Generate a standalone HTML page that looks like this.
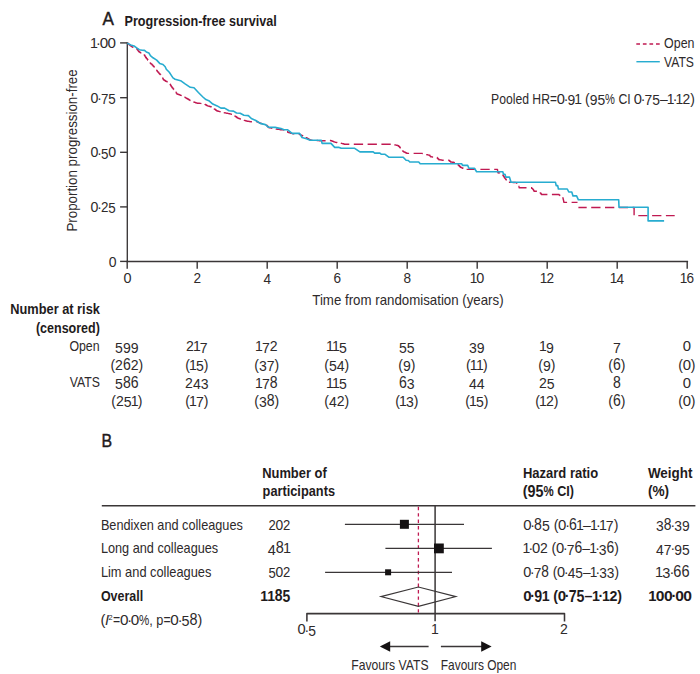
<!DOCTYPE html>
<html><head><meta charset="utf-8"><title>Figure</title>
<style>
html,body{margin:0;padding:0;background:#fff;}
body{width:700px;height:674px;overflow:hidden;font-family:"Liberation Sans",sans-serif;}
svg{display:block;font-family:"Liberation Sans",sans-serif;}
svg text{white-space:pre;}
</style></head><body>
<svg width="700" height="674" viewBox="0 0 700 674">
<rect width="700" height="674" fill="#ffffff"/>
<text x="102.6" y="25.4" font-size="17.8" textLength="11.4" lengthAdjust="spacingAndGlyphs" fill="#1f1b1c" stroke="#1f1b1c" stroke-width="0.45">A</text>
<text x="124.5" y="25.8" font-size="15.2" font-weight="700" textLength="152.2" lengthAdjust="spacingAndGlyphs" fill="#1f1b1c">Progression-free survival</text>
<line x1="127.3" y1="42.2" x2="127.3" y2="262.1" stroke="#3a3637" stroke-width="1.35"/>
<line x1="126.5" y1="261.4" x2="688.1" y2="261.4" stroke="#3a3637" stroke-width="1.45"/>
<line x1="120.1" y1="42.9" x2="127.2" y2="42.9" stroke="#3a3637" stroke-width="1.4"/>
<g font-size="13.9" fill="#2e2a2b"><text transform="translate(89.93,48.05) scale(1.030,1.038)" xml:space="preserve">1</text><text transform="translate(96.06,48.25) scale(1.030,1.000)" xml:space="preserve">·</text><text transform="translate(99.63,48.05) scale(1.092,1.027)" xml:space="preserve">0</text><text transform="translate(107.60,48.05) scale(1.092,1.027)" xml:space="preserve">0</text></g>
<line x1="120.1" y1="97.7" x2="127.2" y2="97.7" stroke="#3a3637" stroke-width="1.4"/>
<g font-size="13.9" fill="#2e2a2b"><text transform="translate(90.58,102.85) scale(1.020,1.027)" xml:space="preserve">0</text><text transform="translate(97.35,103.05) scale(0.963,1.000)" xml:space="preserve">·</text><text transform="translate(100.92,104.15) scale(0.963,1.050)" xml:space="preserve">7</text><text transform="translate(108.36,104.15) scale(0.963,1.050)" xml:space="preserve">5</text></g>
<line x1="120.1" y1="152.3" x2="127.2" y2="152.3" stroke="#3a3637" stroke-width="1.4"/>
<g font-size="13.9" fill="#2e2a2b"><text transform="translate(90.58,157.45) scale(1.020,1.027)" xml:space="preserve">0</text><text transform="translate(97.35,157.65) scale(0.963,1.000)" xml:space="preserve">·</text><text transform="translate(100.92,158.75) scale(0.963,1.050)" xml:space="preserve">5</text><text transform="translate(108.14,157.45) scale(1.020,1.027)" xml:space="preserve">0</text></g>
<line x1="120.1" y1="206.9" x2="127.2" y2="206.9" stroke="#3a3637" stroke-width="1.4"/>
<g font-size="13.9" fill="#2e2a2b"><text transform="translate(90.58,212.05) scale(1.020,1.027)" xml:space="preserve">0</text><text transform="translate(97.35,212.25) scale(0.963,1.000)" xml:space="preserve">·</text><text transform="translate(100.92,212.05) scale(0.963,1.091)" xml:space="preserve">2</text><text transform="translate(108.36,213.35) scale(0.963,1.050)" xml:space="preserve">5</text></g>
<line x1="120.1" y1="261.4" x2="127.2" y2="261.4" stroke="#3a3637" stroke-width="1.4"/>
<g font-size="13.9" fill="#2e2a2b"><text transform="translate(108.64,266.55) scale(1.007,1.027)" xml:space="preserve">0</text></g>
<line x1="127.2" y1="261.4" x2="127.2" y2="268.8" stroke="#3a3637" stroke-width="1.4"/>
<g font-size="13.9" fill="#2e2a2b"><text transform="translate(123.39,282.55) scale(1.039,1.027)" xml:space="preserve">0</text></g>
<line x1="197.2" y1="261.4" x2="197.2" y2="268.8" stroke="#3a3637" stroke-width="1.4"/>
<g font-size="13.9" fill="#2e2a2b"><text transform="translate(193.61,282.55) scale(0.980,1.091)" xml:space="preserve">2</text></g>
<line x1="267.2" y1="261.4" x2="267.2" y2="268.8" stroke="#3a3637" stroke-width="1.4"/>
<g font-size="13.9" fill="#2e2a2b"><text transform="translate(263.61,283.85) scale(0.980,1.050)" xml:space="preserve">4</text></g>
<line x1="337.2" y1="261.4" x2="337.2" y2="268.8" stroke="#3a3637" stroke-width="1.4"/>
<g font-size="13.9" fill="#2e2a2b"><text transform="translate(333.61,282.55) scale(0.980,1.050)" xml:space="preserve">6</text></g>
<line x1="407.2" y1="261.4" x2="407.2" y2="268.8" stroke="#3a3637" stroke-width="1.4"/>
<g font-size="13.9" fill="#2e2a2b"><text transform="translate(403.61,282.55) scale(0.980,1.050)" xml:space="preserve">8</text></g>
<line x1="477.2" y1="261.4" x2="477.2" y2="268.8" stroke="#3a3637" stroke-width="1.4"/>
<g font-size="13.9" fill="#2e2a2b"><text transform="translate(469.83,282.55) scale(0.980,1.038)" xml:space="preserve">1</text><text transform="translate(476.34,282.55) scale(1.039,1.027)" xml:space="preserve">0</text></g>
<line x1="547.2" y1="261.4" x2="547.2" y2="268.8" stroke="#3a3637" stroke-width="1.4"/>
<g font-size="13.9" fill="#2e2a2b"><text transform="translate(539.83,282.55) scale(0.980,1.038)" xml:space="preserve">1</text><text transform="translate(546.57,282.55) scale(0.980,1.091)" xml:space="preserve">2</text></g>
<line x1="617.2" y1="261.4" x2="617.2" y2="268.8" stroke="#3a3637" stroke-width="1.4"/>
<g font-size="13.9" fill="#2e2a2b"><text transform="translate(609.83,282.55) scale(0.980,1.038)" xml:space="preserve">1</text><text transform="translate(616.57,283.85) scale(0.980,1.050)" xml:space="preserve">4</text></g>
<line x1="687.2" y1="261.4" x2="687.2" y2="268.8" stroke="#3a3637" stroke-width="1.4"/>
<g font-size="13.9" fill="#2e2a2b"><text transform="translate(679.83,282.55) scale(0.980,1.038)" xml:space="preserve">1</text><text transform="translate(686.57,282.55) scale(0.980,1.050)" xml:space="preserve">6</text></g>
<text x="312.3" y="304.8" font-size="14.5" textLength="191.3" lengthAdjust="spacingAndGlyphs" fill="#2e2a2b">Time from randomisation (years)</text>
<text transform="translate(77.1,231.6) rotate(-90)" font-size="14.7" textLength="162.3" lengthAdjust="spacingAndGlyphs" fill="#2e2a2b">Proportion progression-free</text>
<path d="M127.3,43.3 L128.2,43.3 L128.2,44.1 L129.1,44.1 L129.1,44.8 L130.0,44.8 L130.0,45.6 L130.7,45.6 L130.7,46.1 L131.5,46.1 L131.5,46.6 L132.2,46.6 L132.2,47.1 L133.0,47.1 L133.0,47.4 L133.7,47.4 L133.7,47.7 L134.5,47.7 L134.5,48.0 L135.2,48.0 L135.2,48.3 L136.0,48.3 L136.0,48.6 L136.7,48.6 L136.7,48.9 L137.3,48.9 L137.3,49.8 L137.9,49.8 L137.9,50.6 L138.5,50.6 L138.5,51.5 L139.2,51.5 L139.2,52.0 L140.0,52.0 L140.0,52.6 L140.7,52.6 L140.7,52.9 L141.5,52.9 L141.5,53.2 L142.2,53.2 L142.2,53.5 L143.0,53.5 L143.0,53.8 L143.7,53.8 L143.7,54.1 L144.2,54.1 L144.2,55.0 L144.7,55.0 L144.7,55.8 L145.1,55.8 L145.1,56.6 L145.6,56.6 L145.6,57.5 L146.4,57.5 L146.4,58.4 L147.1,58.4 L147.1,59.3 L147.6,59.3 L147.6,60.0 L148.0,60.0 L148.0,60.8 L148.5,60.8 L148.5,61.5 L148.9,61.5 L148.9,62.3 L149.6,62.3 L149.6,62.9 L150.4,62.9 L150.4,63.5 L151.1,63.5 L151.1,64.1 L152.1,64.1 L152.1,65.1 L153.0,65.1 L153.0,66.0 L153.7,66.0 L153.7,66.8 L154.3,66.8 L154.3,67.7 L155.0,67.7 L155.0,68.5 L155.6,68.5 L155.6,69.3 L156.2,69.3 L156.2,70.1 L156.8,70.1 L156.8,70.8 L157.4,70.8 L157.4,71.6 L158.0,71.6 L158.0,72.3 L158.7,72.3 L158.7,73.1 L159.3,73.1 L159.3,73.8 L160.0,73.8 L160.0,74.6 L160.6,74.6 L160.6,75.3 L161.2,75.3 L161.2,76.1 L161.9,76.1 L161.9,76.8 L162.3,76.8 L162.3,77.5 L162.7,77.5 L162.7,78.2 L163.0,78.2 L163.0,79.0 L163.4,79.0 L163.4,79.7 L164.1,79.7 L164.1,80.2 L164.9,80.2 L164.9,80.7 L165.6,80.7 L165.6,81.2 L166.3,81.2 L166.3,81.5 L167.1,81.5 L167.1,81.8 L167.8,81.8 L167.8,82.1 L168.6,82.1 L168.6,82.4 L169.3,82.4 L169.3,82.7 L169.7,82.7 L169.7,83.5 L170.1,83.5 L170.1,84.2 L170.4,84.2 L170.4,85.0 L170.8,85.0 L170.8,85.7 L171.3,85.7 L171.3,86.4 L171.8,86.4 L171.8,87.2 L172.3,87.2 L172.3,87.9 L173.0,87.9 L173.0,88.7 L173.6,88.7 L173.6,89.6 L174.3,89.6 L174.3,90.4 L175.0,90.4 L175.0,91.3 L175.6,91.3 L175.6,92.2 L176.2,92.2 L176.2,93.1 L176.9,93.1 L176.9,94.0 L177.6,94.0 L177.6,94.3 L178.4,94.3 L178.4,94.5 L179.1,94.5 L179.1,94.8 L179.9,94.8 L179.9,95.1 L180.6,95.1 L180.6,95.4 L181.4,95.4 L181.4,95.6 L182.1,95.6 L182.1,95.9 L182.9,95.9 L182.9,96.3 L183.6,96.3 L183.6,96.8 L184.4,96.8 L184.4,97.2 L185.1,97.2 L185.1,97.6 L185.9,97.6 L185.9,98.1 L186.6,98.1 L186.6,98.5 L187.5,98.5 L187.5,99.0 L188.4,99.0 L188.4,99.5 L189.2,99.5 L189.2,100.1 L190.1,100.1 L190.1,100.6 L191.0,100.6 L191.0,101.1 L191.8,101.1 L191.8,101.4 L192.5,101.4 L192.5,101.6 L193.2,101.6 L193.2,101.9 L194.0,101.9 L194.0,102.2 L194.8,102.2 L194.8,102.4 L195.5,102.4 L195.5,102.7 L196.2,102.7 L196.2,102.9 L197.0,102.9 L197.0,103.2 L197.8,103.2 L197.8,103.2 L198.7,103.2 L198.7,103.3 L199.5,103.3 L199.5,103.4 L200.3,103.4 L200.3,103.4 L201.1,103.4 L201.1,103.5 L202.0,103.5 L202.0,103.5 L202.8,103.5 L202.8,103.6 L203.6,103.6 L203.6,103.6 L204.3,103.6 L204.3,104.1 L205.1,104.1 L205.1,104.5 L205.8,104.5 L205.8,105.0 L206.6,105.0 L206.6,105.4 L207.3,105.4 L207.3,105.9 L208.1,105.9 L208.1,106.1 L208.9,106.1 L208.9,106.3 L209.7,106.3 L209.7,106.5 L210.4,106.5 L210.4,106.7 L211.2,106.7 L211.2,106.9 L212.0,106.9 L212.0,107.1 L212.8,107.1 L212.8,107.7 L213.5,107.7 L213.5,108.3 L214.2,108.3 L214.2,109.0 L215.0,109.0 L215.0,109.6 L215.8,109.6 L215.8,110.2 L216.5,110.2 L216.5,110.8 L217.2,110.8 L217.2,111.0 L218.0,111.0 L218.0,111.2 L218.7,111.2 L218.7,111.4 L219.4,111.4 L219.4,111.6 L220.2,111.6 L220.2,111.8 L220.9,111.8 L220.9,112.0 L221.7,112.0 L221.7,112.2 L222.5,112.2 L222.5,112.4 L223.4,112.4 L223.4,112.5 L224.2,112.5 L224.2,112.7 L225.0,112.7 L225.0,112.9 L225.8,112.9 L225.8,113.1 L226.6,113.1 L226.6,113.3 L227.5,113.3 L227.5,113.4 L228.3,113.4 L228.3,113.6 L229.1,113.6 L229.1,113.8 L229.8,113.8 L229.8,113.9 L230.6,113.9 L230.6,114.1 L231.3,114.1 L231.3,114.2 L232.1,114.2 L232.1,114.4 L232.8,114.4 L232.8,114.5 L233.5,114.5 L233.5,115.1 L234.3,115.1 L234.3,115.6 L235.0,115.6 L235.0,116.2 L235.7,116.2 L235.7,116.8 L236.5,116.8 L236.5,117.3 L237.2,117.3 L237.2,117.9 L238.0,117.9 L238.0,118.2 L238.7,118.2 L238.7,118.5 L239.5,118.5 L239.5,118.7 L240.2,118.7 L240.2,119.0 L241.0,119.0 L241.0,119.3 L241.8,119.3 L241.8,119.6 L242.7,119.6 L242.7,119.8 L243.5,119.8 L243.5,120.1 L244.4,120.1 L244.4,120.4 L245.2,120.4 L245.2,120.7 L246.1,120.7 L246.1,120.9 L246.9,120.9 L246.9,121.2 L247.6,121.2 L247.6,121.3 L248.4,121.3 L248.4,121.4 L249.1,121.4 L249.1,121.5 L249.9,121.5 L249.9,121.6 L250.6,121.6 L250.6,121.7 L251.4,121.7 L251.4,121.8 L252.1,121.8 L252.1,121.9 L253.0,121.9 L253.0,121.8 L253.9,121.8 L253.9,121.7 L254.7,121.7 L254.7,121.7 L255.6,121.7 L255.6,121.6 L256.5,121.6 L256.5,121.5 L257.2,121.5 L257.2,121.9 L258.0,121.9 L258.0,122.3 L258.7,122.3 L258.7,122.6 L259.5,122.6 L259.5,123.0 L260.2,123.0 L260.2,123.4 L260.9,123.4 L260.9,123.5 L261.7,123.5 L261.7,123.6 L262.4,123.6 L262.4,123.7 L263.2,123.7 L263.2,123.9 L263.9,123.9 L263.9,124.0 L264.7,124.0 L264.7,124.1 L265.4,124.1 L265.4,124.2 L266.2,124.2 L266.2,125.1 L266.9,125.1 L266.9,125.9 L267.7,125.9 L267.7,126.8 L268.4,126.8 L268.4,127.6 L269.3,127.6 L269.3,127.8 L270.1,127.8 L270.1,127.9 L271.0,127.9 L271.0,128.1 L271.9,128.1 L271.9,128.3 L272.7,128.3 L272.7,128.4 L273.6,128.4 L273.6,128.6 L274.4,128.6 L274.4,128.7 L275.3,128.7 L275.3,128.9 L276.1,128.9 L276.1,129.0 L277.0,129.0 L277.0,129.2 L277.8,129.2 L277.8,129.3 L278.6,129.3 L278.6,129.4 L279.5,129.4 L279.5,129.6 L280.3,129.6 L280.3,129.7 L281.2,129.7 L281.2,129.8 L282.1,129.8 L282.1,129.9 L282.9,129.9 L282.9,129.9 L283.8,129.9 L283.8,130.0 L284.7,130.0 L284.7,130.1 L285.4,130.1 L285.4,130.7 L286.2,130.7 L286.2,131.2 L286.9,131.2 L286.9,131.8 L287.7,131.8 L287.7,132.3 L288.4,132.3 L288.4,132.5 L289.2,132.5 L289.2,132.7 L289.9,132.7 L289.9,132.9 L290.7,132.9 L290.7,133.2 L291.4,133.2 L291.4,133.4 L292.2,133.4 L292.2,133.6 L292.9,133.6 L292.9,133.8 L293.7,133.8 L293.7,133.8 L294.6,133.8 L294.6,133.9 L295.4,133.9 L295.4,133.9 L296.3,133.9 L296.3,134.0 L297.1,134.0 L297.1,134.0 L298.0,134.0 L298.0,134.1 L298.8,134.1 L298.8,134.1" fill="none" stroke="#c01a52" stroke-width="1.4" stroke-dasharray="9.3,4.5" stroke-dashoffset="13.2" stroke-linejoin="round"/>
<path d="M298.8,134.1 L299.6,134.1 L299.6,134.5 L300.4,134.5 L300.4,134.9 L301.2,134.9 L301.2,135.3 L301.9,135.3 L301.9,135.6 L302.7,135.6 L302.7,136.0 L303.5,136.0 L303.5,136.4 L304.3,136.4 L304.3,136.8 L305.1,136.8 L305.1,137.3 L306.0,137.3 L306.0,137.8 L306.8,137.8 L306.8,138.3 L307.7,138.3 L307.7,138.7 L308.5,138.7 L308.5,139.2 L309.4,139.2 L309.4,139.7 L310.2,139.7 L310.2,140.2 L311.0,140.2 L311.0,140.2 L311.9,140.2 L311.9,140.3 L312.7,140.3 L312.7,140.3 L313.6,140.3 L313.6,140.4 L314.4,140.4 L314.4,140.4 L315.3,140.4 L315.3,140.5 L316.1,140.5 L316.1,140.5 L316.9,140.5 L316.9,140.5 L317.6,140.5 L317.6,140.6 L318.4,140.6 L318.4,140.6 L319.1,140.6 L319.1,140.7 L319.9,140.7 L319.9,140.7 L320.6,140.7 L320.6,140.7 L321.4,140.7 L321.4,140.8 L322.1,140.8 L322.1,140.8 L322.9,140.8 L322.9,140.8 L323.7,140.8 L323.7,140.7 L324.5,140.7 L324.5,140.7 L325.3,140.7 L325.3,140.7 L326.1,140.7 L326.1,140.7 L327.0,140.7 L327.0,140.6 L327.8,140.6 L327.8,140.6 L328.6,140.6 L328.6,140.6 L329.4,140.6 L329.4,140.5 L330.2,140.5 L330.2,140.5 L330.9,140.5 L330.9,140.8 L331.7,140.8 L331.7,141.0 L332.4,141.0 L332.4,141.3 L333.2,141.3 L333.2,141.6 L333.9,141.6 L333.9,141.9 L334.7,141.9 L334.7,142.1 L335.4,142.1 L335.4,142.4 L336.2,142.4 L336.2,142.5 L337.1,142.5 L337.1,142.7 L337.9,142.7 L337.9,142.8 L338.8,142.8 L338.8,143.0 L339.6,143.0 L339.6,143.1 L340.5,143.1 L340.5,143.3 L341.3,143.3 L341.3,143.4 L342.1,143.4 L342.1,143.6 L342.8,143.6 L342.8,143.8 L343.6,143.8 L343.6,144.0 L344.3,144.0 L344.3,144.2 L388.8,144.2 L389.6,144.2 L389.6,144.3 L390.3,144.3 L390.3,144.4 L391.1,144.4 L391.1,144.5 L391.8,144.5 L391.8,144.6 L392.6,144.6 L392.6,144.6 L393.3,144.6 L393.3,144.7 L394.1,144.7 L394.1,144.8 L394.8,144.8 L394.8,144.9 L395.6,144.9 L395.6,145.1 L396.4,145.1 L396.4,145.3 L397.2,145.3 L397.2,145.5 L398.0,145.5 L398.0,145.7 L398.7,145.7 L398.7,146.4 L399.5,146.4 L399.5,147.2 L400.2,147.2 L400.2,147.9 L400.8,147.9 L400.8,148.6 L401.4,148.6 L401.4,149.4 L402.0,149.4 L402.0,150.1 L402.6,150.1 L402.6,150.9 L403.2,150.9 L403.2,151.6 L403.9,151.6 L403.9,152.0 L404.7,152.0 L404.7,152.3 L405.4,152.3 L405.4,152.7 L406.2,152.7 L406.2,153.0 L406.9,153.0 L406.9,153.4 L421.7,153.4 L422.4,153.4 L422.4,153.6 L423.2,153.6 L423.2,153.8 L423.9,153.8 L423.9,154.0 L424.7,154.0 L424.7,154.2 L425.4,154.2 L425.4,154.4 L426.2,154.4 L426.2,154.6 L426.9,154.6 L426.9,154.8 L427.6,154.8 L427.6,154.9 L428.4,154.9 L428.4,155.1 L429.1,155.1 L429.1,155.3 L429.9,155.3 L429.9,156.1 L430.6,156.1 L430.6,156.8 L431.4,156.8 L431.4,156.9 L432.3,156.9 L432.3,157.0 L433.1,157.0 L433.1,157.1 L434.0,157.1 L434.0,157.2 L434.8,157.2 L434.8,157.3 L435.7,157.3 L435.7,157.4 L436.5,157.4 L436.5,157.5 L437.3,157.5 L437.3,158.2 L438.0,158.2 L438.0,159.0 L438.8,159.0 L438.8,159.7 L439.5,159.7 L439.5,159.8 L440.3,159.8 L440.3,159.9 L441.0,159.9 L441.0,160.0 L441.8,160.0 L441.8,160.1 L442.5,160.1 L442.5,160.2 L448.4,160.2 L449.1,160.2 L449.1,160.8 L449.9,160.8 L449.9,161.4 L450.6,161.4 L450.6,162.0 L451.4,162.0 L451.4,162.1 L452.1,162.1 L452.1,162.2 L452.9,162.2 L452.9,162.3 L453.6,162.3 L453.6,162.4 L454.3,162.4 L454.3,162.8 L455.1,162.8 L455.1,163.1 L455.8,163.1 L455.8,163.5 L456.6,163.5 L456.6,163.8 L457.3,163.8 L457.3,164.2 L458.1,164.2 L458.1,165.0 L458.8,165.0 L458.8,165.7 L459.6,165.7 L459.6,166.5 L460.3,166.5 L460.3,167.2 L461.0,167.2 L461.0,167.5 L461.8,167.5 L461.8,167.9 L462.5,167.9 L462.5,168.2 L463.2,168.2 L463.2,168.5 L464.0,168.5 L464.0,168.8 L464.8,168.8 L464.8,169.1 L465.5,169.1 L465.5,169.4 L497.3,169.4 L497.5,169.4 L497.5,170.2 L497.6,170.2 L497.6,171.1 L497.8,171.1 L497.8,171.9 L497.9,171.9 L497.9,172.7 L498.7,172.7 L498.7,173.0 L499.6,173.0 L499.6,173.3 L500.4,173.3 L500.4,173.6 L501.3,173.6 L501.3,173.9 L502.1,173.9 L502.1,174.2 L502.7,174.2 L502.7,175.1 L503.3,175.1 L503.3,176.0 L503.8,176.0 L503.8,176.8 L504.4,176.8 L504.4,177.7 L505.0,177.7 L505.0,178.6 L505.6,178.6 L505.6,179.3 L506.2,179.3 L506.2,180.1 L506.8,180.1 L506.8,180.8 L507.4,180.8 L507.4,181.6 L508.0,181.6 L508.0,182.3 L508.8,182.3 L508.8,182.3 L509.6,182.3 L509.6,182.4 L510.5,182.4 L510.5,182.4 L511.3,182.4 L511.3,182.4 L512.1,182.4 L512.1,182.4 L512.9,182.4 L512.9,182.5 L513.7,182.5 L513.7,182.5 L514.6,182.5 L514.6,182.5 L515.4,182.5 L515.4,182.6 L516.2,182.6 L516.2,182.6 L516.8,182.6 L516.8,183.3 L517.3,183.3 L517.3,184.1 L517.8,184.1 L517.8,184.8 L518.4,184.8 L518.4,185.6 L518.6,185.6 L518.6,186.3 L518.9,186.3 L518.9,187.1 L519.1,187.1 L519.1,187.8 L531.0,187.8 L531.7,187.8 L531.7,188.4 L532.5,188.4 L532.5,189.1 L533.2,189.1 L533.2,189.7 L533.6,189.7 L533.6,190.5 L534.0,190.5 L534.0,191.2 L539.1,191.2 L539.7,191.2 L539.7,192.0 L540.2,192.0 L540.2,192.9 L540.8,192.9 L540.8,193.7 L541.4,193.7 L541.4,194.5 L558.4,194.5 L559.1,194.5 L559.1,195.1 L559.9,195.1 L559.9,195.6 L560.6,195.6 L560.6,196.2 L561.4,196.2 L561.4,196.8 L562.1,196.8 L562.1,197.3 L562.9,197.3 L562.9,197.9 L563.1,197.9 L563.1,198.7 L563.2,198.7 L563.2,199.4 L563.4,199.4 L563.4,200.2 L563.6,200.2 L563.6,200.9 L563.7,200.9 L563.7,201.7 L563.9,201.7 L563.9,202.4 L577.5,202.4" fill="none" stroke="#c01a52" stroke-width="1.4" stroke-dasharray="9.3,4.5" stroke-dashoffset="3.3" stroke-linejoin="round"/>
<path d="M578.4,207.5 L634.1,207.5 L634.1,215.6 L674.7,215.6" fill="none" stroke="#c01a52" stroke-width="1.4" stroke-dasharray="9.3,4.5" stroke-dashoffset="1.0" stroke-linejoin="round"/>
<path d="M127.3,43.3 L130.7,44.9 L134.1,46.0 L136.7,47.8 L139.3,49.7 L142.2,50.2 L144.5,50.4 L146.3,51.9 L148.9,53.0 L150.4,55.6 L153.0,57.8 L156.7,60.1 L159.7,63.4 L163.0,64.5 L165.2,66.7 L166.3,69.3 L169.3,72.3 L171.5,75.6 L173.0,77.9 L175.1,79.2 L180.6,80.7 L185.1,83.9 L190.3,87.3 L194.0,87.8 L198.4,92.5 L202.9,97.0 L205.9,99.6 L208.8,100.7 L212.8,104.1 L217.2,105.9 L220.9,108.1 L224.6,108.1 L229.1,110.8 L233.5,111.1 L236.5,113.0 L240.2,113.3 L243.9,115.3 L248.4,115.6 L251.3,118.5 L255.8,120.5 L260.2,123.4 L265.4,124.6 L268.4,127.1 L275.1,127.4 L281.0,128.6 L284.0,129.8 L287.7,129.8 L292.1,133.4 L299.6,133.4 L302.0,137.5 L306.5,138.7 L310.2,140.2 L321.3,140.2 L322.1,143.4 L331.0,143.4 L334.7,147.4 L339.1,147.4 L341.3,148.3 L354.7,148.3 L359.9,151.9 L373.2,151.9 L374.7,153.1 L379.9,153.1 L381.4,154.3 L385.1,154.3 L388.8,157.2 L403.2,157.2 L406.1,160.2 L408.3,160.5 L409.8,162.0 L418.7,162.0 L420.2,163.8 L461.8,163.8 L462.5,165.4 L467.7,165.4 L468.9,168.2 L474.4,168.2 L476.6,171.7 L502.8,171.7 L503.5,174.2 L505.0,174.2 L505.8,177.1 L509.5,177.1 L511.0,182.3 L555.5,182.3 L556.2,185.6 L557.7,185.6 L558.4,189.0 L567.3,189.0 L568.8,192.0 L571.8,192.0 L573.0,195.9 L576.6,195.9 L578.4,199.8 L618.7,199.8 L619.0,207.2 L648.1,207.2 L648.1,220.9 L664.1,220.9" fill="none" stroke="#27acd0" stroke-width="1.6" stroke-linejoin="round"/>
<line x1="636.3" y1="44.0" x2="660.0" y2="44.0" stroke="#c01a52" stroke-width="1.45" stroke-dasharray="3.7,2.87"/>
<line x1="636.4" y1="61.7" x2="659.8" y2="61.7" stroke="#27acd0" stroke-width="1.45"/>
<text x="664.1" y="48.0" font-size="14.5" textLength="30.4" lengthAdjust="spacingAndGlyphs" fill="#2e2a2b">Open</text>
<text x="664.0" y="66.5" font-size="14.5" textLength="29.9" lengthAdjust="spacingAndGlyphs" fill="#2e2a2b">VATS</text>
<g font-size="14.8" fill="#2e2a2b"><text transform="translate(491.00,103.95) scale(0.825,1.000)" xml:space="preserve">Pooled HR</text><text transform="translate(550.07,103.95) scale(0.797,1.000)" xml:space="preserve">=</text><text transform="translate(556.73,103.95) scale(0.994,0.960)" xml:space="preserve">0</text><text transform="translate(563.76,104.15) scale(0.938,1.000)" xml:space="preserve">·</text><text transform="translate(567.45,105.25) scale(0.938,1.050)" xml:space="preserve">9</text><text transform="translate(574.33,103.95) scale(0.938,0.970)" xml:space="preserve">1</text><text transform="translate(581.20,103.95) scale(0.938,1.000)" xml:space="preserve"> (</text><text transform="translate(589.67,105.25) scale(0.938,1.050)" xml:space="preserve">9</text><text transform="translate(597.39,105.25) scale(0.938,1.050)" xml:space="preserve">5</text><text transform="translate(605.11,103.95) scale(0.750,1.000)" xml:space="preserve">%</text><text transform="translate(614.99,103.95) scale(0.825,1.000)" xml:space="preserve"> CI </text><text transform="translate(633.76,103.95) scale(0.994,0.960)" xml:space="preserve">0</text><text transform="translate(640.78,104.15) scale(0.938,1.000)" xml:space="preserve">·</text><text transform="translate(644.48,105.25) scale(0.938,1.050)" xml:space="preserve">7</text><text transform="translate(652.20,105.25) scale(0.938,1.050)" xml:space="preserve">5</text><text transform="translate(659.92,103.95) scale(0.938,1.000)" xml:space="preserve">–</text><text transform="translate(666.79,103.95) scale(0.938,0.970)" xml:space="preserve">1</text><text transform="translate(672.74,104.15) scale(0.938,1.000)" xml:space="preserve">·</text><text transform="translate(675.59,103.95) scale(0.938,0.970)" xml:space="preserve">1</text><text transform="translate(682.46,103.95) scale(0.938,1.020)" xml:space="preserve">2</text><text transform="translate(690.18,103.95) scale(0.938,1.000)" xml:space="preserve">)</text></g>
<text x="99.9" y="314.4" font-size="15.2" font-weight="700" text-anchor="end" textLength="89.6" lengthAdjust="spacingAndGlyphs" fill="#1f1b1c">Number at risk</text>
<text x="99.9" y="332.7" font-size="15.2" font-weight="700" text-anchor="end" textLength="64.0" lengthAdjust="spacingAndGlyphs" fill="#1f1b1c">(censored)</text>
<text x="99.6" y="351.4" font-size="14.5" text-anchor="end" textLength="30.2" lengthAdjust="spacingAndGlyphs" fill="#2e2a2b">Open</text>
<text x="99.9" y="387.2" font-size="14.5" text-anchor="end" textLength="30.2" lengthAdjust="spacingAndGlyphs" fill="#2e2a2b">VATS</text>
<g font-size="14.8" fill="#2e2a2b"><text transform="translate(115.07,352.65) scale(0.950,1.050)" xml:space="preserve">5</text><text transform="translate(122.89,352.65) scale(0.950,1.050)" xml:space="preserve">9</text><text transform="translate(130.71,352.65) scale(0.950,1.050)" xml:space="preserve">9</text></g>
<g font-size="14.8" fill="#2e2a2b"><text transform="translate(185.93,351.35) scale(0.950,1.020)" xml:space="preserve">2</text><text transform="translate(192.89,351.35) scale(0.950,0.970)" xml:space="preserve">1</text><text transform="translate(199.85,352.65) scale(0.950,1.050)" xml:space="preserve">7</text></g>
<g font-size="14.8" fill="#2e2a2b"><text transform="translate(255.07,351.35) scale(0.950,0.970)" xml:space="preserve">1</text><text transform="translate(262.03,352.65) scale(0.950,1.050)" xml:space="preserve">7</text><text transform="translate(269.85,351.35) scale(0.950,1.020)" xml:space="preserve">2</text></g>
<g font-size="14.8" fill="#2e2a2b"><text transform="translate(325.93,351.35) scale(0.950,0.970)" xml:space="preserve">1</text><text transform="translate(332.03,351.35) scale(0.950,0.970)" xml:space="preserve">1</text><text transform="translate(338.99,352.65) scale(0.950,1.050)" xml:space="preserve">5</text></g>
<g font-size="14.8" fill="#2e2a2b"><text transform="translate(398.98,352.65) scale(0.950,1.050)" xml:space="preserve">5</text><text transform="translate(406.80,352.65) scale(0.950,1.050)" xml:space="preserve">5</text></g>
<g font-size="14.8" fill="#2e2a2b"><text transform="translate(468.98,352.65) scale(0.950,1.050)" xml:space="preserve">3</text><text transform="translate(476.80,352.65) scale(0.950,1.050)" xml:space="preserve">9</text></g>
<g font-size="14.8" fill="#2e2a2b"><text transform="translate(538.98,351.35) scale(0.950,0.970)" xml:space="preserve">1</text><text transform="translate(545.94,352.65) scale(0.950,1.050)" xml:space="preserve">9</text></g>
<g font-size="14.8" fill="#2e2a2b"><text transform="translate(612.89,352.65) scale(0.950,1.050)" xml:space="preserve">7</text></g>
<g font-size="14.8" fill="#2e2a2b"><text transform="translate(682.66,351.35) scale(1.007,0.960)" xml:space="preserve">0</text></g>
<g font-size="14.8" fill="#2e2a2b"><text transform="translate(110.39,369.85) scale(0.950,1.000)" xml:space="preserve">(</text><text transform="translate(115.07,369.85) scale(0.950,1.020)" xml:space="preserve">2</text><text transform="translate(122.89,369.85) scale(0.950,1.130)" xml:space="preserve">6</text><text transform="translate(130.71,369.85) scale(0.950,1.020)" xml:space="preserve">2</text><text transform="translate(138.53,369.85) scale(0.950,1.000)" xml:space="preserve">)</text></g>
<g font-size="14.8" fill="#2e2a2b"><text transform="translate(185.16,369.85) scale(0.950,1.000)" xml:space="preserve">(</text><text transform="translate(188.98,369.85) scale(0.950,0.970)" xml:space="preserve">1</text><text transform="translate(195.94,371.15) scale(0.950,1.050)" xml:space="preserve">5</text><text transform="translate(203.76,369.85) scale(0.950,1.000)" xml:space="preserve">)</text></g>
<g font-size="14.8" fill="#2e2a2b"><text transform="translate(254.30,369.85) scale(0.950,1.000)" xml:space="preserve">(</text><text transform="translate(258.98,371.15) scale(0.950,1.050)" xml:space="preserve">3</text><text transform="translate(266.80,371.15) scale(0.950,1.050)" xml:space="preserve">7</text><text transform="translate(274.62,369.85) scale(0.950,1.000)" xml:space="preserve">)</text></g>
<g font-size="14.8" fill="#2e2a2b"><text transform="translate(324.30,369.85) scale(0.950,1.000)" xml:space="preserve">(</text><text transform="translate(328.98,371.15) scale(0.950,1.050)" xml:space="preserve">5</text><text transform="translate(336.80,371.15) scale(0.950,1.050)" xml:space="preserve">4</text><text transform="translate(344.62,369.85) scale(0.950,1.000)" xml:space="preserve">)</text></g>
<g font-size="14.8" fill="#2e2a2b"><text transform="translate(398.21,369.85) scale(0.950,1.000)" xml:space="preserve">(</text><text transform="translate(402.89,371.15) scale(0.950,1.050)" xml:space="preserve">9</text><text transform="translate(410.71,369.85) scale(0.950,1.000)" xml:space="preserve">)</text></g>
<g font-size="14.8" fill="#2e2a2b"><text transform="translate(466.02,369.85) scale(0.950,1.000)" xml:space="preserve">(</text><text transform="translate(469.84,369.85) scale(0.950,0.970)" xml:space="preserve">1</text><text transform="translate(475.94,369.85) scale(0.950,0.970)" xml:space="preserve">1</text><text transform="translate(482.90,369.85) scale(0.950,1.000)" xml:space="preserve">)</text></g>
<g font-size="14.8" fill="#2e2a2b"><text transform="translate(538.21,369.85) scale(0.950,1.000)" xml:space="preserve">(</text><text transform="translate(542.89,371.15) scale(0.950,1.050)" xml:space="preserve">9</text><text transform="translate(550.71,369.85) scale(0.950,1.000)" xml:space="preserve">)</text></g>
<g font-size="14.8" fill="#2e2a2b"><text transform="translate(608.21,369.85) scale(0.950,1.000)" xml:space="preserve">(</text><text transform="translate(612.89,369.85) scale(0.950,1.130)" xml:space="preserve">6</text><text transform="translate(620.71,369.85) scale(0.950,1.000)" xml:space="preserve">)</text></g>
<g font-size="14.8" fill="#2e2a2b"><text transform="translate(678.21,369.85) scale(0.950,1.000)" xml:space="preserve">(</text><text transform="translate(682.66,369.85) scale(1.007,0.960)" xml:space="preserve">0</text><text transform="translate(690.71,369.85) scale(0.950,1.000)" xml:space="preserve">)</text></g>
<g font-size="14.8" fill="#2e2a2b"><text transform="translate(115.07,388.85) scale(0.950,1.050)" xml:space="preserve">5</text><text transform="translate(122.89,387.55) scale(0.950,1.130)" xml:space="preserve">8</text><text transform="translate(130.71,387.55) scale(0.950,1.130)" xml:space="preserve">6</text></g>
<g font-size="14.8" fill="#2e2a2b"><text transform="translate(185.07,387.55) scale(0.950,1.020)" xml:space="preserve">2</text><text transform="translate(192.89,388.85) scale(0.950,1.050)" xml:space="preserve">4</text><text transform="translate(200.71,388.85) scale(0.950,1.050)" xml:space="preserve">3</text></g>
<g font-size="14.8" fill="#2e2a2b"><text transform="translate(255.07,387.55) scale(0.950,0.970)" xml:space="preserve">1</text><text transform="translate(262.03,388.85) scale(0.950,1.050)" xml:space="preserve">7</text><text transform="translate(269.85,387.55) scale(0.950,1.130)" xml:space="preserve">8</text></g>
<g font-size="14.8" fill="#2e2a2b"><text transform="translate(325.93,387.55) scale(0.950,0.970)" xml:space="preserve">1</text><text transform="translate(332.03,387.55) scale(0.950,0.970)" xml:space="preserve">1</text><text transform="translate(338.99,388.85) scale(0.950,1.050)" xml:space="preserve">5</text></g>
<g font-size="14.8" fill="#2e2a2b"><text transform="translate(398.98,387.55) scale(0.950,1.130)" xml:space="preserve">6</text><text transform="translate(406.80,388.85) scale(0.950,1.050)" xml:space="preserve">3</text></g>
<g font-size="14.8" fill="#2e2a2b"><text transform="translate(468.98,388.85) scale(0.950,1.050)" xml:space="preserve">4</text><text transform="translate(476.80,388.85) scale(0.950,1.050)" xml:space="preserve">4</text></g>
<g font-size="14.8" fill="#2e2a2b"><text transform="translate(538.98,387.55) scale(0.950,1.020)" xml:space="preserve">2</text><text transform="translate(546.80,388.85) scale(0.950,1.050)" xml:space="preserve">5</text></g>
<g font-size="14.8" fill="#2e2a2b"><text transform="translate(612.89,387.55) scale(0.950,1.130)" xml:space="preserve">8</text></g>
<g font-size="14.8" fill="#2e2a2b"><text transform="translate(682.66,387.55) scale(1.007,0.960)" xml:space="preserve">0</text></g>
<g font-size="14.8" fill="#2e2a2b"><text transform="translate(111.25,405.95) scale(0.950,1.000)" xml:space="preserve">(</text><text transform="translate(115.93,405.95) scale(0.950,1.020)" xml:space="preserve">2</text><text transform="translate(123.75,407.25) scale(0.950,1.050)" xml:space="preserve">5</text><text transform="translate(130.71,405.95) scale(0.950,0.970)" xml:space="preserve">1</text><text transform="translate(137.67,405.95) scale(0.950,1.000)" xml:space="preserve">)</text></g>
<g font-size="14.8" fill="#2e2a2b"><text transform="translate(185.16,405.95) scale(0.950,1.000)" xml:space="preserve">(</text><text transform="translate(188.98,405.95) scale(0.950,0.970)" xml:space="preserve">1</text><text transform="translate(195.94,407.25) scale(0.950,1.050)" xml:space="preserve">7</text><text transform="translate(203.76,405.95) scale(0.950,1.000)" xml:space="preserve">)</text></g>
<g font-size="14.8" fill="#2e2a2b"><text transform="translate(254.30,405.95) scale(0.950,1.000)" xml:space="preserve">(</text><text transform="translate(258.98,407.25) scale(0.950,1.050)" xml:space="preserve">3</text><text transform="translate(266.80,405.95) scale(0.950,1.130)" xml:space="preserve">8</text><text transform="translate(274.62,405.95) scale(0.950,1.000)" xml:space="preserve">)</text></g>
<g font-size="14.8" fill="#2e2a2b"><text transform="translate(324.30,405.95) scale(0.950,1.000)" xml:space="preserve">(</text><text transform="translate(328.98,407.25) scale(0.950,1.050)" xml:space="preserve">4</text><text transform="translate(336.80,405.95) scale(0.950,1.020)" xml:space="preserve">2</text><text transform="translate(344.62,405.95) scale(0.950,1.000)" xml:space="preserve">)</text></g>
<g font-size="14.8" fill="#2e2a2b"><text transform="translate(395.16,405.95) scale(0.950,1.000)" xml:space="preserve">(</text><text transform="translate(398.98,405.95) scale(0.950,0.970)" xml:space="preserve">1</text><text transform="translate(405.94,407.25) scale(0.950,1.050)" xml:space="preserve">3</text><text transform="translate(413.76,405.95) scale(0.950,1.000)" xml:space="preserve">)</text></g>
<g font-size="14.8" fill="#2e2a2b"><text transform="translate(465.16,405.95) scale(0.950,1.000)" xml:space="preserve">(</text><text transform="translate(468.98,405.95) scale(0.950,0.970)" xml:space="preserve">1</text><text transform="translate(475.94,407.25) scale(0.950,1.050)" xml:space="preserve">5</text><text transform="translate(483.76,405.95) scale(0.950,1.000)" xml:space="preserve">)</text></g>
<g font-size="14.8" fill="#2e2a2b"><text transform="translate(535.16,405.95) scale(0.950,1.000)" xml:space="preserve">(</text><text transform="translate(538.98,405.95) scale(0.950,0.970)" xml:space="preserve">1</text><text transform="translate(545.94,405.95) scale(0.950,1.020)" xml:space="preserve">2</text><text transform="translate(553.76,405.95) scale(0.950,1.000)" xml:space="preserve">)</text></g>
<g font-size="14.8" fill="#2e2a2b"><text transform="translate(608.21,405.95) scale(0.950,1.000)" xml:space="preserve">(</text><text transform="translate(612.89,405.95) scale(0.950,1.130)" xml:space="preserve">6</text><text transform="translate(620.71,405.95) scale(0.950,1.000)" xml:space="preserve">)</text></g>
<g font-size="14.8" fill="#2e2a2b"><text transform="translate(678.21,405.95) scale(0.950,1.000)" xml:space="preserve">(</text><text transform="translate(682.66,405.95) scale(1.007,0.960)" xml:space="preserve">0</text><text transform="translate(690.71,405.95) scale(0.950,1.000)" xml:space="preserve">)</text></g>
<text x="101.6" y="447.2" font-size="17.8" textLength="10.6" lengthAdjust="spacingAndGlyphs" fill="#1f1b1c" stroke="#1f1b1c" stroke-width="0.45">B</text>
<text x="262.2" y="477.6" font-size="15.2" font-weight="700" textLength="64.5" lengthAdjust="spacingAndGlyphs" fill="#1f1b1c">Number of</text>
<text x="262.6" y="495.6" font-size="15.2" font-weight="700" textLength="72.4" lengthAdjust="spacingAndGlyphs" fill="#1f1b1c">participants</text>
<text x="522.9" y="477.7" font-size="15.2" font-weight="700" textLength="75.2" lengthAdjust="spacingAndGlyphs" fill="#1f1b1c">Hazard ratio</text>
<g font-size="15.244000000000002" font-weight="700" fill="#1f1b1c"><text transform="translate(522.80,495.65) scale(0.940,1.000)" xml:space="preserve">(</text><text transform="translate(527.57,496.95) scale(0.940,1.050)" xml:space="preserve">9</text><text transform="translate(535.54,496.95) scale(0.940,1.050)" xml:space="preserve">5</text><text transform="translate(543.51,495.65) scale(0.752,1.000)" xml:space="preserve">%</text><text transform="translate(553.69,495.65) scale(0.827,1.000)" xml:space="preserve"> CI)</text></g>
<text x="647.9" y="477.7" font-size="15.2" font-weight="700" textLength="44.6" lengthAdjust="spacingAndGlyphs" fill="#1f1b1c">Weight</text>
<text x="647.9" y="495.7" font-size="15.2" font-weight="700" textLength="21.2" lengthAdjust="spacingAndGlyphs" fill="#1f1b1c">(%)</text>
<line x1="101.8" y1="505.7" x2="695.4" y2="505.7" stroke="#3a3637" stroke-width="1.4"/>
<text x="100.9" y="529.8" font-size="14.5" textLength="141.9" lengthAdjust="spacingAndGlyphs" fill="#2e2a2b">Bendixen and colleagues</text>
<g font-size="14.8" fill="#2e2a2b"><text transform="translate(268.40,529.75) scale(0.883,1.020)" xml:space="preserve">2</text><text transform="translate(275.45,529.75) scale(0.936,0.960)" xml:space="preserve">0</text><text transform="translate(282.93,529.75) scale(0.883,1.020)" xml:space="preserve">2</text></g>
<g font-size="14.8" fill="#2e2a2b"><text transform="translate(523.17,529.75) scale(1.010,0.960)" xml:space="preserve">0</text><text transform="translate(530.30,529.95) scale(0.953,1.000)" xml:space="preserve">·</text><text transform="translate(534.06,529.75) scale(0.953,1.130)" xml:space="preserve">8</text><text transform="translate(541.90,531.05) scale(0.953,1.050)" xml:space="preserve">5</text><text transform="translate(549.74,529.75) scale(0.953,1.000)" xml:space="preserve"> (</text><text transform="translate(558.12,529.75) scale(1.010,0.960)" xml:space="preserve">0</text><text transform="translate(565.26,529.95) scale(0.953,1.000)" xml:space="preserve">·</text><text transform="translate(569.01,529.75) scale(0.953,1.130)" xml:space="preserve">6</text><text transform="translate(575.99,529.75) scale(0.953,0.970)" xml:space="preserve">1</text><text transform="translate(582.97,529.75) scale(0.953,1.000)" xml:space="preserve">–</text><text transform="translate(589.95,529.75) scale(0.953,0.970)" xml:space="preserve">1</text><text transform="translate(595.99,529.95) scale(0.953,1.000)" xml:space="preserve">·</text><text transform="translate(598.89,529.75) scale(0.953,0.970)" xml:space="preserve">1</text><text transform="translate(605.86,531.05) scale(0.953,1.050)" xml:space="preserve">7</text><text transform="translate(613.70,529.75) scale(0.953,1.000)" xml:space="preserve">)</text></g>
<g font-size="14.8" fill="#2e2a2b"><text transform="translate(656.00,531.05) scale(0.936,1.050)" xml:space="preserve">3</text><text transform="translate(663.71,529.75) scale(0.936,1.130)" xml:space="preserve">8</text><text transform="translate(670.49,529.95) scale(0.936,1.000)" xml:space="preserve">·</text><text transform="translate(674.18,531.05) scale(0.936,1.050)" xml:space="preserve">3</text><text transform="translate(681.89,531.05) scale(0.936,1.050)" xml:space="preserve">9</text></g>
<text x="100.9" y="553.2" font-size="14.5" textLength="117.3" lengthAdjust="spacingAndGlyphs" fill="#2e2a2b">Long and colleagues</text>
<g font-size="14.8" fill="#2e2a2b"><text transform="translate(267.80,554.55) scale(0.979,1.050)" xml:space="preserve">4</text><text transform="translate(275.86,553.25) scale(0.979,1.130)" xml:space="preserve">8</text><text transform="translate(283.03,553.25) scale(0.979,0.970)" xml:space="preserve">1</text></g>
<g font-size="14.8" fill="#2e2a2b"><text transform="translate(522.55,553.25) scale(0.942,0.970)" xml:space="preserve">1</text><text transform="translate(528.52,553.45) scale(0.942,1.000)" xml:space="preserve">·</text><text transform="translate(532.00,553.25) scale(0.998,0.960)" xml:space="preserve">0</text><text transform="translate(539.98,553.25) scale(0.942,1.020)" xml:space="preserve">2</text><text transform="translate(547.73,553.25) scale(0.942,1.000)" xml:space="preserve"> (</text><text transform="translate(556.01,553.25) scale(0.998,0.960)" xml:space="preserve">0</text><text transform="translate(563.07,553.45) scale(0.942,1.000)" xml:space="preserve">·</text><text transform="translate(566.78,554.55) scale(0.942,1.050)" xml:space="preserve">7</text><text transform="translate(574.53,553.25) scale(0.942,1.130)" xml:space="preserve">6</text><text transform="translate(582.28,553.25) scale(0.942,1.000)" xml:space="preserve">–</text><text transform="translate(589.18,553.25) scale(0.942,0.970)" xml:space="preserve">1</text><text transform="translate(595.15,553.45) scale(0.942,1.000)" xml:space="preserve">·</text><text transform="translate(598.86,554.55) scale(0.942,1.050)" xml:space="preserve">3</text><text transform="translate(606.61,553.25) scale(0.942,1.130)" xml:space="preserve">6</text><text transform="translate(614.36,553.25) scale(0.942,1.000)" xml:space="preserve">)</text></g>
<g font-size="14.8" fill="#2e2a2b"><text transform="translate(656.00,554.55) scale(0.936,1.050)" xml:space="preserve">4</text><text transform="translate(663.71,554.55) scale(0.936,1.050)" xml:space="preserve">7</text><text transform="translate(670.49,553.45) scale(0.936,1.000)" xml:space="preserve">·</text><text transform="translate(674.18,554.55) scale(0.936,1.050)" xml:space="preserve">9</text><text transform="translate(681.89,554.55) scale(0.936,1.050)" xml:space="preserve">5</text></g>
<text x="100.9" y="576.9" font-size="14.5" textLength="110.5" lengthAdjust="spacingAndGlyphs" fill="#2e2a2b">Lim and colleagues</text>
<g font-size="14.8" fill="#2e2a2b"><text transform="translate(268.40,578.15) scale(0.883,1.050)" xml:space="preserve">5</text><text transform="translate(275.45,576.85) scale(0.936,0.960)" xml:space="preserve">0</text><text transform="translate(282.93,576.85) scale(0.883,1.020)" xml:space="preserve">2</text></g>
<g font-size="14.8" fill="#2e2a2b"><text transform="translate(523.17,576.85) scale(0.981,0.960)" xml:space="preserve">0</text><text transform="translate(530.10,577.05) scale(0.925,1.000)" xml:space="preserve">·</text><text transform="translate(533.75,578.15) scale(0.925,1.050)" xml:space="preserve">7</text><text transform="translate(541.36,576.85) scale(0.925,1.130)" xml:space="preserve">8</text><text transform="translate(548.98,576.85) scale(0.925,1.000)" xml:space="preserve"> (</text><text transform="translate(557.12,576.85) scale(0.981,0.960)" xml:space="preserve">0</text><text transform="translate(564.05,577.05) scale(0.925,1.000)" xml:space="preserve">·</text><text transform="translate(567.69,578.15) scale(0.925,1.050)" xml:space="preserve">4</text><text transform="translate(575.31,578.15) scale(0.925,1.050)" xml:space="preserve">5</text><text transform="translate(582.92,576.85) scale(0.925,1.000)" xml:space="preserve">–</text><text transform="translate(589.70,576.85) scale(0.925,0.970)" xml:space="preserve">1</text><text transform="translate(595.56,577.05) scale(0.925,1.000)" xml:space="preserve">·</text><text transform="translate(599.21,578.15) scale(0.925,1.050)" xml:space="preserve">3</text><text transform="translate(606.83,578.15) scale(0.925,1.050)" xml:space="preserve">3</text><text transform="translate(614.44,576.85) scale(0.925,1.000)" xml:space="preserve">)</text></g>
<g font-size="14.8" fill="#2e2a2b"><text transform="translate(655.11,576.85) scale(0.986,0.970)" xml:space="preserve">1</text><text transform="translate(662.33,578.15) scale(0.986,1.050)" xml:space="preserve">3</text><text transform="translate(669.48,577.05) scale(0.986,1.000)" xml:space="preserve">·</text><text transform="translate(673.37,576.85) scale(0.986,1.130)" xml:space="preserve">6</text><text transform="translate(681.48,576.85) scale(0.986,1.130)" xml:space="preserve">6</text></g>
<text x="100.9" y="600.6" font-size="15.2" font-weight="700" textLength="42.3" lengthAdjust="spacingAndGlyphs" fill="#1f1b1c">Overall</text>
<g font-size="15.244000000000002" font-weight="700" fill="#1f1b1c"><text transform="translate(260.31,600.55) scale(0.916,0.970)" xml:space="preserve">1</text><text transform="translate(267.30,600.55) scale(0.916,0.970)" xml:space="preserve">1</text><text transform="translate(274.67,600.55) scale(0.916,1.130)" xml:space="preserve">8</text><text transform="translate(282.44,601.85) scale(0.916,1.050)" xml:space="preserve">5</text></g>
<g font-size="15.244000000000002" font-weight="700" fill="#1f1b1c"><text transform="translate(523.16,600.55) scale(0.989,0.960)" xml:space="preserve">0</text><text transform="translate(530.36,600.75) scale(0.933,1.000)" xml:space="preserve">·</text><text transform="translate(534.15,601.85) scale(0.933,1.050)" xml:space="preserve">9</text><text transform="translate(541.67,600.55) scale(0.933,0.970)" xml:space="preserve">1</text><text transform="translate(549.19,600.55) scale(0.933,1.000)" xml:space="preserve"> (</text><text transform="translate(557.64,600.55) scale(0.989,0.960)" xml:space="preserve">0</text><text transform="translate(564.84,600.75) scale(0.933,1.000)" xml:space="preserve">·</text><text transform="translate(568.63,601.85) scale(0.933,1.050)" xml:space="preserve">7</text><text transform="translate(576.54,601.85) scale(0.933,1.050)" xml:space="preserve">5</text><text transform="translate(584.45,600.55) scale(0.933,1.000)" xml:space="preserve">–</text><text transform="translate(591.97,600.55) scale(0.933,0.970)" xml:space="preserve">1</text><text transform="translate(598.54,600.75) scale(0.933,1.000)" xml:space="preserve">·</text><text transform="translate(601.94,600.55) scale(0.933,0.970)" xml:space="preserve">1</text><text transform="translate(609.45,600.55) scale(0.933,1.020)" xml:space="preserve">2</text><text transform="translate(617.36,600.55) scale(0.933,1.000)" xml:space="preserve">)</text></g>
<g font-size="15.244000000000002" font-weight="700" fill="#1f1b1c"><text transform="translate(648.19,600.55) scale(0.969,0.970)" xml:space="preserve">1</text><text transform="translate(655.75,600.55) scale(1.027,0.960)" xml:space="preserve">0</text><text transform="translate(663.96,600.55) scale(1.027,0.960)" xml:space="preserve">0</text><text transform="translate(671.44,600.75) scale(0.969,1.000)" xml:space="preserve">·</text><text transform="translate(675.13,600.55) scale(1.027,0.960)" xml:space="preserve">0</text><text transform="translate(683.34,600.55) scale(1.027,0.960)" xml:space="preserve">0</text></g>
<text x="100.6" y="624.9" font-size="14.8" fill="#2e2a2b">(</text>
<text x="105.0" y="624.9" font-size="14.6" font-style="italic" fill="#2e2a2b">I</text>
<text x="108.6" y="619.5" font-size="7.4" fill="#2e2a2b">2</text>
<g font-size="14.8" fill="#2e2a2b"><text transform="translate(113.00,624.85) scale(0.828,1.000)" xml:space="preserve">=</text><text transform="translate(119.92,624.85) scale(1.032,0.960)" xml:space="preserve">0</text><text transform="translate(127.21,625.05) scale(0.974,1.000)" xml:space="preserve">·</text><text transform="translate(130.81,624.85) scale(1.032,0.960)" xml:space="preserve">0</text><text transform="translate(139.07,624.85) scale(0.779,1.000)" xml:space="preserve">%</text><text transform="translate(149.32,624.85) scale(0.857,1.000)" xml:space="preserve">, p</text><text transform="translate(163.42,624.85) scale(0.828,1.000)" xml:space="preserve">=</text><text transform="translate(170.33,624.85) scale(1.032,0.960)" xml:space="preserve">0</text><text transform="translate(177.63,625.05) scale(0.974,1.000)" xml:space="preserve">·</text><text transform="translate(181.47,626.15) scale(0.974,1.050)" xml:space="preserve">5</text><text transform="translate(189.48,624.85) scale(0.974,1.130)" xml:space="preserve">8</text><text transform="translate(197.50,624.85) scale(0.974,1.000)" xml:space="preserve">)</text></g>
<line x1="435.1" y1="505.7" x2="435.1" y2="621.2" stroke="#3a3637" stroke-width="1.5"/>
<path d="M306.9,621.4 L306.9,613.6 L564.5,613.6 L564.5,621.4" fill="none" stroke="#3a3637" stroke-width="1.55" stroke-linejoin="round"/>
<line x1="418.4" y1="506.8" x2="418.4" y2="613.0" stroke="#c01a52" stroke-width="1.3" stroke-dasharray="3.4,3.0"/>
<line x1="344.9" y1="524.3" x2="464.0" y2="524.3" stroke="#3a3637" stroke-width="1.3"/>
<rect x="399.9" y="519.8" width="9" height="9" fill="#151213"/>
<line x1="385.4" y1="548.4" x2="491.9" y2="548.4" stroke="#3a3637" stroke-width="1.3"/>
<rect x="434.0" y="543.5" width="9.8" height="9.8" fill="#151213"/>
<line x1="325.1" y1="572.3" x2="452.0" y2="572.3" stroke="#3a3637" stroke-width="1.3"/>
<rect x="385.1" y="569.3" width="6" height="6" fill="#151213"/>
<path d="M380.9,596.6 L418.4,587 L455.9,596.6 L418.4,606.4 Z" fill="none" stroke="#3a3637" stroke-width="1.1"/>
<g font-size="14.8" fill="#2e2a2b"><text transform="translate(297.57,634.45) scale(0.993,0.960)" xml:space="preserve">0</text><text transform="translate(304.59,634.65) scale(0.937,1.000)" xml:space="preserve">·</text><text transform="translate(308.29,635.75) scale(0.937,1.050)" xml:space="preserve">5</text></g>
<g font-size="14.8" fill="#2e2a2b"><text transform="translate(430.99,634.45) scale(0.950,0.970)" xml:space="preserve">1</text></g>
<g font-size="14.8" fill="#2e2a2b"><text transform="translate(559.89,634.45) scale(0.950,1.020)" xml:space="preserve">2</text></g>
<line x1="386.0" y1="646.5" x2="428.6" y2="646.5" stroke="#3a3637" stroke-width="1.4"/>
<path d="M379.8,646.45 L390.2,641.25 L390.2,651.65 Z" fill="#151213"/>
<line x1="440.9" y1="646.5" x2="485.0" y2="646.5" stroke="#3a3637" stroke-width="1.4"/>
<path d="M491.6,646.45 L481.2,641.25 L481.2,651.65 Z" fill="#151213"/>
<text x="351.2" y="670.4" font-size="14.5" textLength="77.4" lengthAdjust="spacingAndGlyphs" fill="#2e2a2b">Favours VATS</text>
<text x="440.8" y="670.4" font-size="14.5" textLength="75.6" lengthAdjust="spacingAndGlyphs" fill="#2e2a2b">Favours Open</text>
</svg>
</body></html>
